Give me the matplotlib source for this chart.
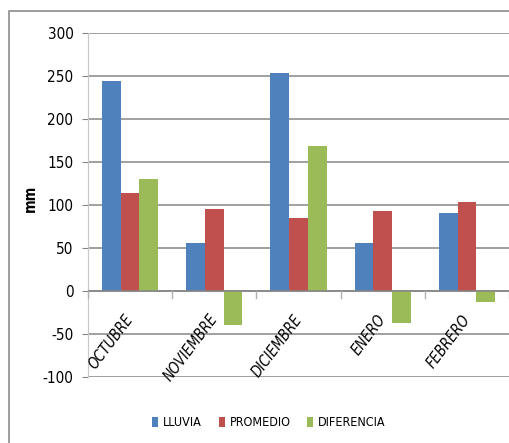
import matplotlib
matplotlib.use("Agg")
import matplotlib.pyplot as plt
from matplotlib import font_manager
import numpy as np

categories = ["OCTUBRE", "NOVIEMBRE", "DICIEMBRE", "ENERO", "FEBRERO"]
lluvia = [244, 56, 254, 56, 91]
promedio = [114, 95, 85, 93, 104]
diferencia = [130, -39, 169, -37, -13]
series_names = ["LLUVIA", "PROMEDIO", "DIFERENCIA"]
colors = ["#4F81BD", "#C0504D", "#9BBB59"]

plt.rcParams["axes.unicode_minus"] = False

files = {}
for f in font_manager.fontManager.ttflist:
    base = f.fname.lower().replace("\\", "/").split("/")[-1]
    files[base] = f.fname
reg = files.get("dejavusanscondensed.ttf")
bold = files.get("dejavusanscondensed-bold.ttf")
obl = files.get("dejavusanscondensed-oblique.ttf")


def mk(path, size, **kw):
    if path:
        return font_manager.FontProperties(fname=path, size=size)
    return font_manager.FontProperties(family="Liberation Sans", size=size, **kw)


fig = plt.figure(figsize=(5.10, 4.43), dpi=100)
W, H = 510, 443
fig.add_artist(plt.Rectangle((9.5 / W, -0.1), 1.2, (H - 11) / H + 0.1,
                             transform=fig.transFigure, fill=False,
                             edgecolor="#8c8c8c", linewidth=1.2))

ax = fig.add_axes([88 / W, (H - 377) / H, 421 / W, 344 / H])
x = np.arange(len(categories))
bw = 1 / 4.5
data = [lluvia, promedio, diferencia]
for i, (vals, c, n) in enumerate(zip(data, colors, series_names)):
    ax.bar(x + (i - 1) * bw, vals, bw, color=c, label=n, zorder=3)

ax.set_xlim(-0.5, len(categories) - 0.5)
ax.set_ylim(-100, 300)
ax.set_yticks(range(-100, 301, 50))
ax.yaxis.grid(True, color="#868686", linewidth=1.1, zorder=0)
ax.tick_params(axis="y", length=4, color="#868686", pad=6.5)
for lbl in ax.get_yticklabels():
    lbl.set_fontproperties(mk(reg, 11))
for s in ["top", "right", "bottom"]:
    ax.spines[s].set_visible(False)
ax.spines["left"].set_color("#c8c8c8")
ax.axhline(0, color="#868686", linewidth=1.1, zorder=4)

ax.set_xticks([])
for b in np.arange(-0.5, len(categories), 1.0):
    ax.plot([b, b], [0, -8], color="#b0b0b0", linewidth=1, zorder=4, clip_on=False)

for xi, lab in zip(x, categories):
    ax.annotate(lab, (xi, 0), xytext=(-4, -15), textcoords="offset points",
                rotation=53, ha="right", va="top", rotation_mode="anchor",
                fontproperties=mk(obl, 10.5, style="italic"))

ax.set_ylabel("mm", fontproperties=mk(bold, 10.5, weight="bold"))
ax.yaxis.set_label_coords((38 - 88) / 421, (377 - 198) / 344)

fig.legend(loc="center", bbox_to_anchor=(269 / W, 1 - 423 / H), ncol=3,
           frameon=False, prop=mk(reg, 9), handlelength=0.5, handleheight=0.9,
           handletextpad=0.4, columnspacing=1.3)

fig.savefig("out.png", dpi=100)
